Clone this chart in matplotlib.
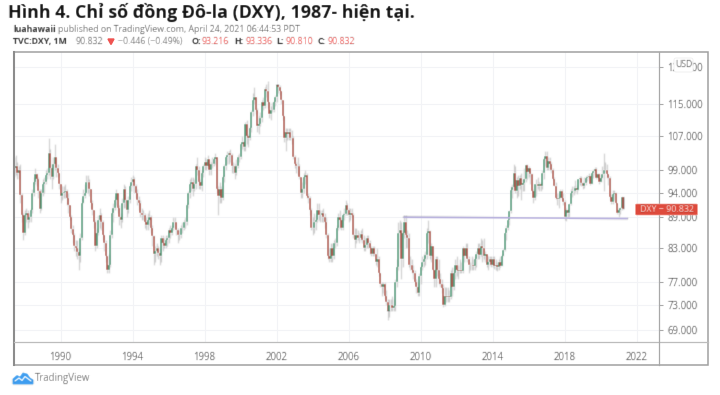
import numpy as np
import matplotlib
matplotlib.use("Agg")
import matplotlib.pyplot as plt
from matplotlib.patches import Polygon, Rectangle, FancyBboxPatch

start_year = 1987
start_month = 6

closes = [
 99.5,100,98.5,99,93.6,89.5,86,
 89.5,90,88.5,89,90.5,94,96.5,98.2,97,94.5,90.8,94,
 96,96.5,98,98.5,103,99.5,97.5,100.5,102,99.5,98.5,96,
 93.5,94,94.3,94.5,93,91.5,89,86.8,85.5,83.5,83,82.3,
 81.5,85,92,93.5,94,96.5,96.5,95,92,90.5,88,83.5,
 86,88.5,89.5,88,85.5,84,81.5,79,80,85.5,90,91,
 92.5,94,91,89,88.5,92,95,92.5,90.5,92.5,95.5,96.5,
 97,95.5,94,92.5,92,90,89.5,89.5,88,87.5,88.5,89,
 87,85.3,82,82.5,83,82.2,81.5,85,84,83.5,84.5,85,
 86.5,86,87,88,88,86.5,85.5,85.5,87,87,88,88,
 91.5,94,96,96.5,95,96,100,99,96.5,95.5,98.5,100,
 101,100,101.5,99,100.5,100.5,101.5,102,95,93.5,95,93,
 97.5,100,102,102.5,103,102.5,100,100,98.5,100,102,102,
 105,105.5,104.5,110,107,106.5,109,113,116,117,113.5,109.5,
 110,111.5,115.5,114.5,119,118.5,115.5,112.5,113.5,113.5,115.5,117,
 120,119.5,118.5,116,112,106.5,108,107.5,108,106.5,106.5,102,
 100.5,100,100,97.5,94,95,97.5,98,93.5,93,90.5,87,
 87,88,88.5,90.5,89.5,89.5,90,89.2,88,85.5,81.5,81,
 83,81.5,84,84,87,89,88.5,87,89.5,89.8,91.5,90.5,
 89.5,90,89.5,85.5,84.5,85.5,85,85,85.7,84.5,83,83.7,
 85,84,83,82,83,82,80.5,81,78.5,76.5,76,76.5,
 74.5,73.5,72,73,73,72.5,72.8,77,79.5,86,86.5,81,
 86,88,85.5,85,80,80,79,78.5,77,76,75,78,
 79.5,80.5,81,81.8,86,86.3,81.5,83.5,79,77.5,81,79,
 77.5,76.5,75.8,73,74.5,74.3,74.5,74.3,78.5,76,78.5,80,
 79,78.8,79,78.8,83,81.6,83,81,80,80,80,79.7,
 81,82,83,81.8,83.5,83,81.5,82,80,80.5,81,80,
 81,79.8,79.9,79.6,80.4,79.8,81.5,82.7,85.9,87,88.4,90.3,
 94.8,95.3,98.4,94.6,96.9,95.5,97.3,95.8,96.3,97,100.2,98.7,
 99.6,98.2,94.6,93,95.9,96.1,95.5,96,95.5,98.5,101.5,102.2,
 99.5,101.1,100.4,99,97,95.6,93,92.7,93.1,94.5,93,92.1,
 89.2,90.6,89.9,91.8,94,94.5,94.5,95.1,94.8,97.1,97.3,96.2,
 95.6,96.2,97.3,97.5,97.8,96.1,98.5,98.9,99.4,97.4,98.3,96.4,
 97.4,98.1,99,99,98.3,97.4,93.3,92.1,93.9,94,91.9,89.9,
 90.6,90.9,93.2,90.8,
]
highs = [
 102,102.5,101,100,100.5,94,90,
 90.5,91,90.5,90,91,95,97.5,99.5,98.5,97.5,95,95,
 97,97.5,99,99.5,106.5,104,100.5,102,105,101,100.5,98.5,
 96,95.5,95.5,96,95,94,91.5,89.5,87.5,86,84.5,84.5,
 83,86,93,95,96,98,98,97,95,92.5,90.5,88.5,
 87,89.5,91,90,88.5,85.5,84.5,81.5,82,86.5,91,92,
 93.5,95,94,91.5,90,93,96,95.5,92.5,93.5,96,97.5,
 98,97.5,96,95,93.5,92.5,91,90.5,90,89,90,90.5,
 89.5,87.5,85.5,83.5,84,83.5,83,85.5,85.5,85,85.5,85.5,
 87,87.5,87.5,89,89,88,87,86.5,87.5,88,88.5,89,
 92,94.5,97,97.5,97.5,97,100.5,102,100,97,99,100.5,
 102,101.5,102.5,101,101,102,102,103,102,95.5,96.5,95.5,
 98,100.5,102.5,103.5,103.5,104,103,101,100.5,101.5,102.5,103,
 105.5,107,106,110.5,111,107.5,109.5,113.5,118,119.5,117,114,
 112,113,116,117,119.5,120.5,121,115.5,114.5,115.5,116,117.5,
 120.5,120.5,120,118.5,116,112,109,109,109,109,108.5,107,
 102.5,101,102,100.5,97.5,96.5,98.5,99,98.5,94,93.5,91,
 89,90,89.5,92,92,90.5,90.5,91,90,89,86,83,
 84,84,84.5,85,87.5,90,90.5,89,90,91,92.5,92,
 91,91,91,90,87,87,86.5,86,86.5,87,85.5,85,
 85.5,85.5,84.5,83.5,83.5,83.5,82,83,81.5,78.5,77,77,
 77,75.5,74,74,74,74.5,74,77.5,81,88,88.5,88,
 86.5,89.5,89.5,86.5,86,81.5,81,80,79,77.5,77,78.5,
 80,81.5,82,82.5,87,88.5,86.5,84,83.5,79,81.5,81.5,
 81,78.5,77.5,76.5,76,76,76,75.5,79,79.5,79.5,81,
 81.5,80,81,80.5,83.5,83,84,84,81.5,80.5,81.5,81,
 81.5,82.5,84,84,85,84.5,85,82.5,82,81.5,81.5,81.5,
 81.5,81.5,81,80.5,81,81.5,82,83,86,87.5,88.5,90.5,
 95.5,96,100.5,100,97.5,98,98,98.5,97,99.5,100.5,100.5,
 100,99.5,98.5,95,96,97,97.5,96.5,96.5,99,102,103.5,
 103.5,102,102,101,99.5,97.5,96.5,94,94,95,95,94,
 92.5,91,90.5,92,95,95.5,95.5,96.9,95.8,97.2,97.7,97.7,
 96.5,97.5,97.7,98,98.4,98,98.7,99.4,99.7,99.7,98.5,98.5,
 98,99.9,103,100.9,100.4,98.2,97.7,93.9,94.7,94.8,94.3,92,
 91,91.1,93.4,93.3,
]
lows = [
 97.5,98,97,97,92,88,84.5,
 85.5,88,87,88,88,90,93.5,96,95.5,93,90,90.5,
 93.5,94,96,97,98,97,95,97,99,97.5,97.5,95,
 92,92.5,93,93,91.5,90,88.5,86,84,82.5,81.5,81,
 79,80.5,84.5,92,93,94,94,93.5,91,89.5,87,82.5,
 83,85.5,87,86.5,84.5,82.5,80.5,78.5,78.5,79.5,85,88,
 90.5,91.5,90,87.5,87,88,91,91,89,90,92,94.5,
 95.5,94,93,91.5,90.5,89,88.5,88.5,87,86.5,86.5,87.5,
 86,83.5,80,80.5,81.5,81,80,80.5,82.5,83,83,83.5,
 84,85,85.5,86.5,87,85.5,84,84.5,85,86,86.5,87,
 87.5,91,93,94.5,93.5,94.5,95,98,95,95,94.5,97.5,
 99,99,99.5,98,98,99.5,100,100.5,94,89.5,92,92,
 92.5,96.5,99,100.5,100.5,101,98.5,98.5,97,98,99.5,101,
 101.5,104,103.5,103.5,105,104.5,106,108,112,115,112.5,108,
 107.5,109.5,110.5,113.5,114,117,114,111.5,111,113,113,114.5,
 115.5,118,117.5,115,111,105.5,103.5,106,106,106,105,101.5,
 99.5,98.5,98,97,93,93,94,96,93,92,89.5,86.5,
 85.5,86,86.5,88,88.5,88,88,88,87,85,81,80.5,
 80.5,80.5,81,83,83.5,86.5,87,86.5,86.5,88.5,89.5,89.5,
 88,88.5,89,85,83,84,84.5,84,84.5,84,82.5,82.5,
 83,83,82,81.5,81.5,81.5,80,79.5,78,76,74.5,75,
 74,73,70.8,71,72,72,72,72,76,79,83,77.5,
 79.5,85,83,83,79.5,79,78.5,77.5,76.5,75,74.5,74.5,
 76.5,79,79.5,80,81,84,81,80.5,79,76,76,78,
 76.5,76,75,72.7,72.8,73.5,73.5,73.5,74,74.5,75.5,77.5,
 78,77.5,78.5,78.5,78.5,80.5,81.5,80.5,78.5,79,79,79,
 79,79.5,81,81,81.5,80.5,81,80.5,79.5,79,80,79.5,
 79.5,79.3,79,78.9,79,79.5,79.8,81.5,82.5,84.5,86.5,87.5,
 90,93,94.8,94,93,93.5,95,92.5,94.5,94.5,96.5,97,
 97.5,96,94.5,91.9,92.5,93.5,95,94.5,94.5,95,97,100,
 99,99,99,98.5,96.8,95.5,92.8,91.5,91,93,92.5,91.5,
 88.5,88.2,88.9,89,91.5,93.2,93.7,94.2,93.8,94.8,95.7,95.5,
 95,95.2,95.8,96.7,97,95.8,95.9,97.4,97.9,97.1,97.2,96,
 96.5,97.4,94.6,98.7,97.4,95.7,92.6,91.8,91.7,92.5,91.7,89.7,
 89.2,89.7,90.6,90.7,
]
price_ticks = [69, 73, 77, 83, 89, 94, 99, 107, 115, 125]
year_ticks = [1990, 1994, 1998, 2002, 2006, 2010, 2014, 2018, 2022]
support_level = [89.05, 88.8]
support_time = [2009.1, 2021.47]
last_price = 90.832


def blur(sigma):
    r = int(3 * sigma) + 1
    k = np.exp(-0.5 * (np.arange(-r, r + 1) / sigma) ** 2)
    k /= k.sum()
    def f(im, dpi):
        pad = r + 1
        out = np.pad(im, ((pad, pad), (pad, pad), (0, 0)))
        out = np.apply_along_axis(lambda v: np.convolve(v, k, mode="same"), 0, out)
        out = np.apply_along_axis(lambda v: np.convolve(v, k, mode="same"), 1, out)
        return out, -pad, -pad
    return f


plt.rcParams["font.family"] = ["Open Sans", "DejaVu Sans"]
fig = plt.figure(figsize=(7.2, 3.95), dpi=100, facecolor="white")
W, H = 720, 395
L, R, T, B = 14, 659, 52, 342
ax = fig.add_axes([L / W, 1 - B / H, (R - L) / W, (B - T) / H])
ax.set_yscale("log")
ax.set_xlim(1990 + (L - 60.5) / 18, 1990 + (R - 60.5) / 18)
ax.set_ylim(69 * np.exp((330 - B) / 442), 69 * np.exp((330 - T) / 442))
ax.yaxis.set_major_locator(matplotlib.ticker.FixedLocator(price_ticks))
ax.yaxis.set_minor_locator(matplotlib.ticker.NullLocator())
ax.yaxis.set_major_formatter(matplotlib.ticker.FuncFormatter(lambda v, p: f"{v:.3f}"))
ax.yaxis.tick_right()
ax.set_xticks(year_ticks)
ax.set_xticklabels([str(y) for y in year_ticks])
ax.tick_params(axis="y", length=3, color="#aaaaaa", labelsize=6.9, labelcolor="#5f5f5f", pad=3)
ax.tick_params(axis="x", length=0, labelsize=6.9, labelcolor="#5f5f5f", pad=7)
ax.grid(True, color="#f2f3f6", lw=0.8)
ax.set_axisbelow(True)
for s in ax.spines.values():
    s.set_visible(False)

c = np.array(closes, float)
o = np.r_[c[0], c[:-1]]
h = np.maximum(np.array(highs, float), np.maximum(o, c))
l = np.minimum(np.array(lows, float), np.minimum(o, c))
t = start_year + (start_month - 1) / 12 + np.arange(len(c)) / 12
cols = np.where(c >= o, "#4a9673", "#ad5045")

wicks = ax.vlines(t, l, h, colors="#c6c6c6", lw=0.8, zorder=3)
bodies = ax.vlines(t, o, c, colors=cols, lw=1.3, zorder=4)
wicks.set_agg_filter(blur(0.7))
bodies.set_agg_filter(blur(0.6))
sup, = ax.plot(support_time, support_level, color="#b3acdc", lw=1.2, zorder=5)
sup.set_agg_filter(blur(0.5))

ov = fig.add_axes([0, 0, 1, 1], facecolor="none")
ov.set_xlim(0, W)
ov.set_ylim(H, 0)
ov.axis("off")
frame = "#a0a0a0"
ov.add_patch(Rectangle((14, 52), 694, 313, fill=False, ec=frame, lw=1.1))
ov.plot([14, 14], [52, 365], color="#8c8c8c", lw=1.5)
ov.plot([14, 708], [342, 342], color="#bcbcbc", lw=0.9)
ov.plot([659, 659], [52, 365], color="#a8a8a8", lw=0.9)

texts = []
def tx(x, y, s, **kw):
    kw.setdefault("va", "center")
    kw.setdefault("ha", "left")
    a = ov.text(x, y, s, **kw)
    texts.append(a)
    return a

tx(8, 12, "Hình 4. Chỉ số đồng Đô-la (DXY), 1987- hiện tại.", fontsize=12.85, fontweight="bold", color="#111111")
tx(13, 29.5, "luahawaii", fontsize=6.3, fontweight="bold", color="#333333")
tx(58, 29.5, "published on TradingView.com, April 24, 2021 06:44:53 PDT", fontsize=6.35, color="#666666")
tx(13, 41.5, "TVC:DXY, 1M", fontsize=6.3, fontweight="bold", color="#333333")
tx(75, 41.5, "90.832", fontsize=6.3, color="#777777")
ov.add_patch(Polygon([(108, 39), (114, 39), (111, 44.5)], closed=True, color="#ef5350"))
tx(118, 41.5, "−0.446 (−0.49%)", fontsize=6.3, color="#777777")
for xl, lab, xv, val in [(192, "O:", 202, "93.216"), (234, "H:", 245, "93.336"),
                         (276, "L:", 285, "90.810"), (317, "C:", 327, "90.832")]:
    tx(xl, 41.5, lab, fontsize=6.3, fontweight="bold", color="#333333")
    tx(xv, 41.5, val, fontsize=6.3, color="#ef5350")

ov.add_patch(FancyBboxPatch((635.5, 204), 62, 11, boxstyle="round,pad=0,rounding_size=1.2", fc="#de4a3c", ec="#f1a097", lw=0.5, zorder=6))
tx(666.5, 209.5, f"DXY − {last_price:.3f}", fontsize=6.4, color="#fbe3e0", ha="center", zorder=7)
ov.add_patch(FancyBboxPatch((674, 58), 19, 14, boxstyle="round,pad=0,rounding_size=2", fc="white", ec="#eeeeee", lw=0.6, zorder=6))
tx(683.5, 64.5, "USD", fontsize=6.2, color="#666666", ha="center", zorder=7)

logo = ov.add_patch(Polygon([(13, 384), (13, 379), (17, 375.5), (20, 377), (23, 373), (27, 374), (30, 378), (33, 380), (33, 384)],
                            closed=True, fc="#3d9df0", ec="#3d9df0", lw=0.5))
zig, = ov.plot([15, 19, 22, 25, 31], [381, 378, 380.5, 376.5, 381], color="white", lw=0.9)
tx(34.5, 378.5, "TradingView", fontsize=6.9, color="#707070")

soft = blur(0.5)
for a in texts:
    a.set_agg_filter(soft)
for lab in ax.get_xticklabels() + ax.get_yticklabels():
    lab.set_agg_filter(soft)
logo.set_agg_filter(soft)
zig.set_agg_filter(soft)

fig.savefig("out.png", dpi=100, facecolor="white")
